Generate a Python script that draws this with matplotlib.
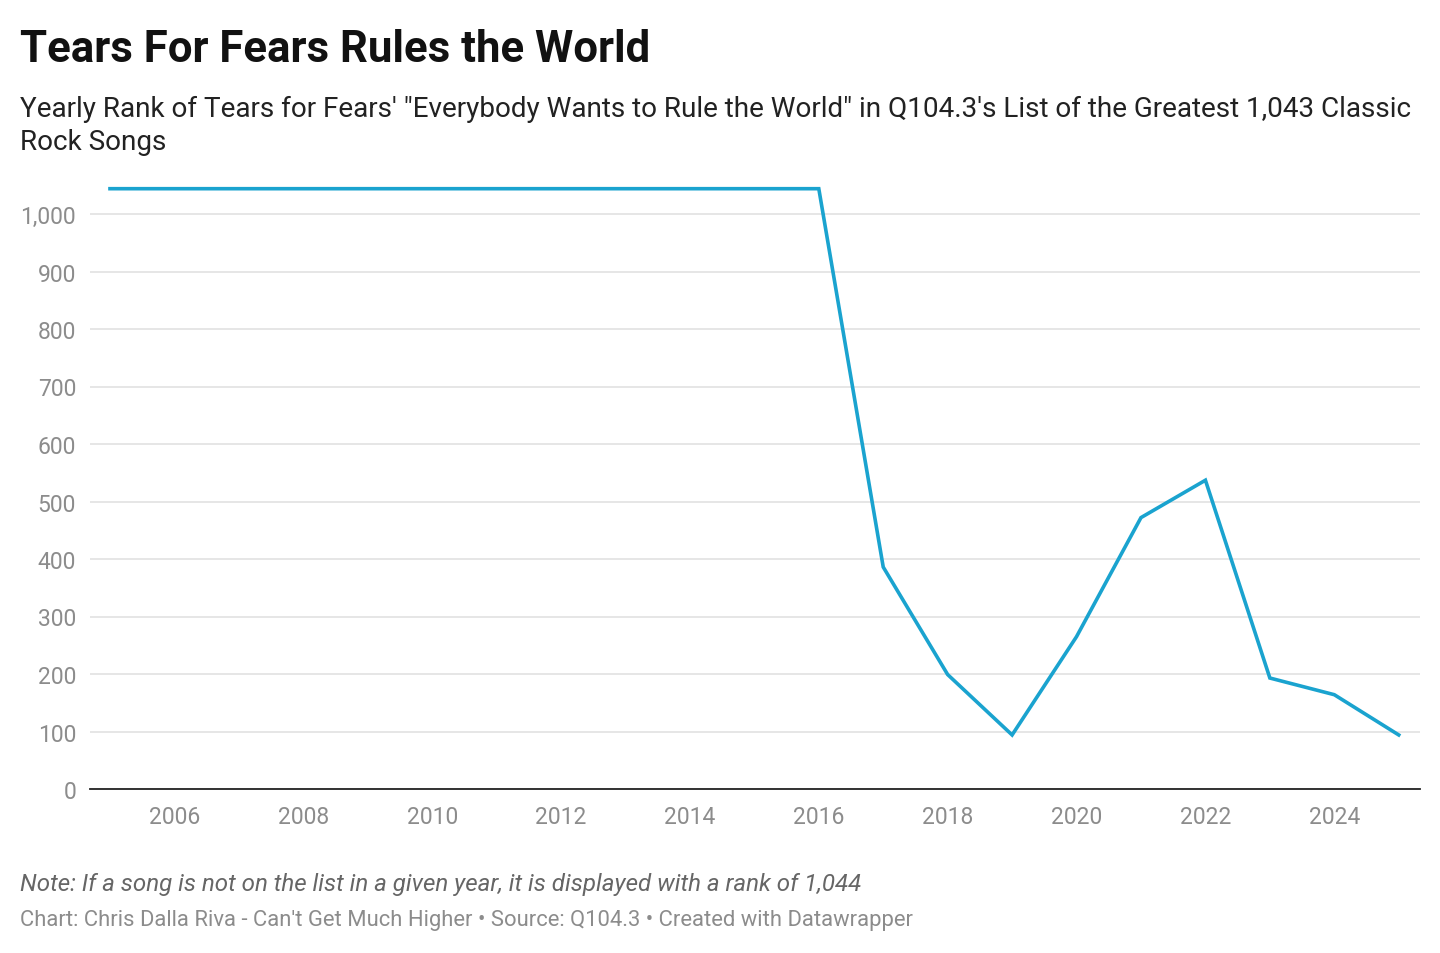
import matplotlib
matplotlib.use('Agg')
import matplotlib.pyplot as plt
from matplotlib.ticker import FuncFormatter

plt.rcParams['font.family'] = ['Roboto', 'DejaVu Sans']

# ------------ DANE ------------- #
years = list(range(2005, 2026))
ranks = [1044] * 12 + [386, 199, 94, 265, 472, 537, 193, 164, 94]
yticks = [0, 100, 200, 300, 400, 500, 600, 700, 800, 900, 1000]
xticks = [2006, 2008, 2010, 2012, 2014, 2016, 2018, 2020, 2022, 2024]

title = 'Tears For Fears Rules the World'
subtitle1 = "Yearly Rank of Tears for Fears' \"Everybody Wants to Rule the World\" in Q104.3's List of the Greatest 1,043 Classic"
subtitle2 = "Rock Songs"
note = 'Note: If a song is not on the list in a given year, it is displayed with a rank of 1,044'
footer = "Chart: Chris Dalla Riva - Can't Get Much Higher \u2022 Source: Q104.3 \u2022 Created with Datawrapper"

W, H = 1440, 954
fig = plt.figure(figsize=(W / 100, H / 100), dpi=100)

# axes pozycja w pikselach
left, right, bottom, top = 90, 1420, 790, 180.5
ax = fig.add_axes([left / W, 1 - bottom / H, (right - left) / W, (bottom - top) / H])

ax.plot(years, ranks, color='#1aa3cf', linewidth=2.6, solid_joinstyle='miter', zorder=3)

ax.set_xlim(2004.69, 2025.33)
ax.set_ylim(0, 1060)
ax.set_yticks(yticks)
ax.set_xticks(xticks)
ax.yaxis.set_major_formatter(FuncFormatter(lambda v, p: f'{int(v):,}'))
ax.grid(axis='y', color='#e1e1e1', linewidth=1.2, zorder=0)
ax.grid(axis='x', visible=False)
for s in ['top', 'right', 'left']:
    ax.spines[s].set_visible(False)
ax.spines['bottom'].set_color('#222222')
ax.spines['bottom'].set_linewidth(1.3)
ax.spines['bottom'].set_zorder(4)
ax.tick_params(axis='both', length=0, labelsize=16.5, labelcolor='#8c8c8c')
ax.tick_params(axis='y', pad=10)
ax.tick_params(axis='x', pad=11.5)

fig.text(20 / W, 1 - 62 / H, title, fontsize=31.5, fontweight='bold', color='#111111', va='baseline')
fig.text(20 / W, 1 - 117 / H, subtitle1, fontsize=20.1, color='#222222', va='baseline')
fig.text(20 / W, 1 - 150 / H, subtitle2, fontsize=20.1, color='#222222', va='baseline')
fig.text(20 / W, 1 - 891 / H, note, fontsize=17.4, style='italic', color='#666666', va='baseline')
fig.text(20 / W, 1 - 926 / H, footer, fontsize=15.8, color='#8c8c8c', va='baseline')

fig.savefig('out.png', dpi=100, facecolor='white')
